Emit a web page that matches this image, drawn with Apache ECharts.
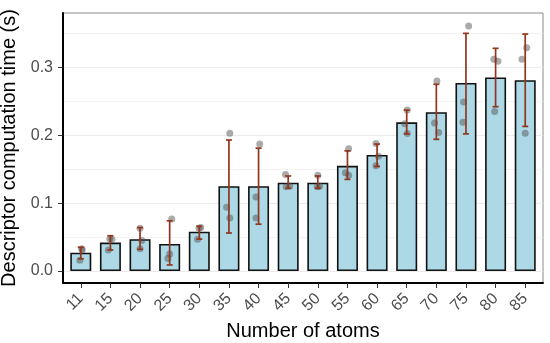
<!DOCTYPE html>
<html>
<head>
<meta charset="utf-8">
<script src="https://cdn.jsdelivr.net/npm/echarts@6/dist/echarts.min.js"></script>
<style>
  html, body { margin: 0; padding: 0; background: #fff; }
</style>
</head>
<body>
<div id="main" style="width: 550px;height:343px;"></div>
<script type="text/javascript">
    // 数据
    var atoms = ['11', '15', '20', '25', '30', '35', '40', '45', '50', '55', '60', '65', '70', '75', '80', '85'];
    var meanTime = [0.027, 0.042, 0.047, 0.040, 0.058, 0.125, 0.125, 0.130, 0.130, 0.155, 0.171, 0.219, 0.234, 0.277, 0.285, 0.281];
    var errLow = [0.018, 0.031, 0.032, 0.009, 0.047, 0.056, 0.069, 0.122, 0.122, 0.135, 0.154, 0.202, 0.194, 0.202, 0.242, 0.213];
    var errHigh = [0.035, 0.052, 0.064, 0.074, 0.066, 0.193, 0.181, 0.140, 0.140, 0.177, 0.187, 0.237, 0.275, 0.350, 0.328, 0.349];

    // 三次运行的单点
    var runA = [0.033, 0.0475, 0.063, 0.0765, 0.063, 0.203, 0.187, 0.142, 0.141, 0.180, 0.188, 0.237, 0.280, 0.361, 0.312, 0.329];
    var runB = [0.016, 0.031, 0.033, 0.025, 0.047, 0.094, 0.109, 0.124, 0.124, 0.1446, 0.169, 0.217, 0.218, 0.249, 0.309, 0.312];
    var runC = [0.031, 0.047, 0.045, 0.0186, 0.064, 0.078, 0.078, 0.125, 0.125, 0.141, 0.155, 0.2025, 0.204, 0.219, 0.235, 0.203];
    // jitter (x 方向偏移, 单位: 类别)
    var jitterA = [0.03, -0.02, 0, 0.07, -0.01, 0.03, 0.04, -0.09, 0, 0.04, -0.04, 0.02, 0.02, 0.09, -0.06, 0.05];
    var jitterB = [-0.03, -0.07, 0, 0, -0.06, -0.08, -0.09, -0.07, -0.02, -0.07, 0.05, -0.07, -0.06, -0.08, 0.08, -0.11];
    var jitterC = [0.05, 0.05, 0.06, -0.06, 0.05, 0.03, -0.09, 0.05, 0.06, 0.04, -0.04, 0.02, 0.08, -0.1, -0.03, 0];

    var yTicks = [0, 0.1, 0.2, 0.3];
    var yMinor = [0.05, 0.15, 0.25, 0.35];

    var myChart = echarts.init(document.getElementById('main'));

    var idx = atoms.map(function (a, i) { return i; });
    var barData = meanTime.map(function (v, i) { return [i, v]; });
    var errData = meanTime.map(function (v, i) { return [i, errLow[i], errHigh[i]]; });
    var pts = [];
    [[runA, jitterA], [runB, jitterB], [runC, jitterC]].forEach(function (r) {
        r[0].forEach(function (v, i) { pts.push([i + r[1][i], v]); });
    });

    var gridLines = yTicks.map(function (v) {
        return { yAxis: v, lineStyle: { color: '#ebebeb', width: 1.1, type: 'solid' } };
    }).concat(yMinor.map(function (v) {
        return { yAxis: v, lineStyle: { color: '#f0f0f0', width: 0.8, type: 'solid' } };
    }));

    var font = 'Liberation Sans, Arial, sans-serif';

    var option = {
        animation: false,
        textStyle: { fontFamily: font },
        grid: {
            left: 63, right: 7, top: 13, bottom: 60,
            outerBoundsMode: 'none',
            show: true, borderColor: '#8c8c8c', borderWidth: 1
        },
        xAxis: {
            type: 'value',
            min: -0.6, max: 15.6,
            name: 'Number of atoms',
            nameLocation: 'middle',
            nameGap: 37,
            nameTextStyle: { fontSize: 20, color: '#000', fontFamily: font },
            axisLine: { show: true, onZero: false, lineStyle: { color: '#000', width: 2 } },
            axisTick: { show: true, customValues: idx, length: 5, lineStyle: { color: '#333', width: 1 } },
            axisLabel: {
                customValues: idx,
                formatter: function (v) { return atoms[Math.round(v)]; },
                rotate: 45, fontSize: 16, color: '#4d4d4d', margin: 13,
                fontFamily: font
            },
            splitLine: { show: false }
        },
        yAxis: {
            type: 'value',
            min: -0.0176, max: 0.38,
            name: 'Descriptor computation time (s)',
            nameLocation: 'middle',
            nameGap: 44,
            nameTextStyle: { fontSize: 20, color: '#000', fontFamily: font },
            axisLine: { show: true, onZero: false, lineStyle: { color: '#000', width: 2 } },
            axisTick: { show: true, customValues: yTicks, length: 5, lineStyle: { color: '#333', width: 1 } },
            axisLabel: {
                customValues: yTicks,
                formatter: function (v) { return v.toFixed(1); },
                fontSize: 16, color: '#4d4d4d', margin: 10, fontFamily: font
            },
            splitLine: { show: false }
        },
        series: [
            {
                // 背景网格线
                type: 'line',
                data: [],
                z: 0,
                silent: true,
                markLine: { symbol: 'none', silent: true, label: { show: false }, data: gridLines, z: 0 }
            },
            {
                type: 'bar',
                data: barData,
                barWidth: 21,
                z: 2,
                itemStyle: { color: '#add8e6', borderColor: '#111', borderWidth: 1.6 }
            },
            {
                type: 'scatter',
                data: pts,
                symbolSize: 7,
                z: 3,
                itemStyle: { color: 'rgba(80,80,80,0.6)' }
            },
            {
                type: 'custom',
                data: errData,
                z: 4,
                encode: { x: 0, y: [1, 2] },
                renderItem: function (params, api) {
                    var x = api.value(0);
                    var lo = api.coord([x, api.value(1)]);
                    var hi = api.coord([x, api.value(2)]);
                    var hw = 3;
                    var st = { stroke: '#93361e', lineWidth: 1.7 };
                    return {
                        type: 'group',
                        children: [
                            { type: 'line', shape: { x1: lo[0], y1: hi[1], x2: lo[0], y2: lo[1] }, style: st },
                            { type: 'line', shape: { x1: lo[0] - hw, y1: hi[1], x2: lo[0] + hw, y2: hi[1] }, style: st },
                            { type: 'line', shape: { x1: lo[0] - hw, y1: lo[1], x2: lo[0] + hw, y2: lo[1] }, style: st }
                        ]
                    };
                }
            }
        ]
    };

    myChart.setOption(option);
</script>
</body>
</html>
